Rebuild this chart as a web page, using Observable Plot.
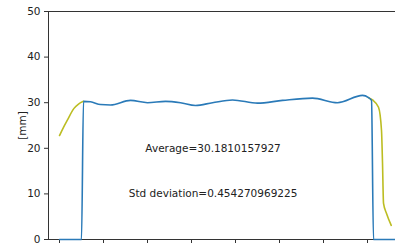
<!DOCTYPE html>
<html>
<head>
<meta charset="utf-8">
<script src="https://cdn.jsdelivr.net/npm/d3@7"></script>
<script src="https://cdn.jsdelivr.net/npm/@observablehq/plot@0.6"></script>
<style>
  body { margin: 0; background: #fff; }
  #chart svg { display: block; }
</style>
</head>
<body>
<div id="chart"></div>
<script>
// x positions in tick-index units (x tick labels are cropped in the reference)
const xTicks = [0, 1, 2, 3, 4, 5, 6, 7];
const yTicks = [0, 10, 20, 30, 40, 50];

// Blue measured profile
const blueX = [0, 0.5, 0.545, 0.705, 0.932, 1.159, 1.614, 2.0, 2.409, 2.75, 3.091, 3.477, 3.932, 4.5, 5.068, 5.75, 6.318, 6.886, 7.023, 7.091, 7.136, 7.636];
const blueY = [0, 0, 30.3, 30.2, 29.6, 29.5, 30.5, 30.0, 30.3, 30.0, 29.4, 30.0, 30.6, 29.9, 30.5, 31.0, 30.0, 31.6, 31.1, 30.5, 0, 0];

// Yellow edge curves
const yellowLeftX = [0, 0.091, 0.175, 0.325, 0.432, 0.545];
const yellowLeftY = [22.8, 24.6, 26.1, 28.7, 29.7, 30.3];
const yellowRightX = [7.023, 7.114, 7.25, 7.318, 7.341, 7.364, 7.432, 7.539];
const yellowRightY = [31.1, 30.6, 29.0, 23.9, 16.7, 7.9, 5.7, 3.1];

const averageText = "Average=30.1810157927";
const stdText = "Std deviation=0.454270969225";

const blue = blueX.map((x, i) => ({x, y: blueY[i]}));
const yl = yellowLeftX.map((x, i) => ({x, y: yellowLeftY[i]}));
const yr = yellowRightX.map((x, i) => ({x, y: yellowRightY[i]}));

const chart = Plot.plot({
  width: 395,
  height: 246,
  marginLeft: 48,
  marginRight: 0,
  marginTop: 11,
  marginBottom: 7,
  style: {fontFamily: "DejaVu Sans", fontSize: "10.5px", color: "#222", background: "#fff"},
  x: {domain: [-0.25, 7.636]},
  y: {domain: [0, 50]},
  marks: [
    Plot.ruleY([50], {stroke: "#333", strokeWidth: 1}),
    Plot.ruleX([-0.25], {stroke: "#333", strokeWidth: 1}),
    Plot.ruleY([0], {stroke: "#333", strokeWidth: 1}),
    Plot.axisY({ticks: yTicks, tickSize: 4, tickPadding: 4, label: "[mm]", labelAnchor: "center", labelArrow: "none", labelOffset: 30, stroke: "#333"}),
    Plot.axisX({ticks: xTicks, tickSize: 4, tickFormat: () => "", label: null, stroke: "#333"}),
    Plot.line(yl, {x: "x", y: "y", stroke: "#bcbd22", strokeWidth: 1.6, curve: "monotone-x"}),
    Plot.line(yr, {x: "x", y: "y", stroke: "#bcbd22", strokeWidth: 1.6, curve: "monotone-x"}),
    Plot.line(blue, {x: "x", y: "y", stroke: "#2a7ab8", strokeWidth: 1.6, curve: "monotone-x"}),
    Plot.text([averageText], {x: 3.49, y: 20, text: d => d, fill: "#222", fontSize: 10.5}),
    Plot.text([stdText], {x: 3.49, y: 10, text: d => d, fill: "#222", fontSize: 10.5})
  ]
});
document.getElementById("chart").append(chart);
</script>
</body>
</html>
